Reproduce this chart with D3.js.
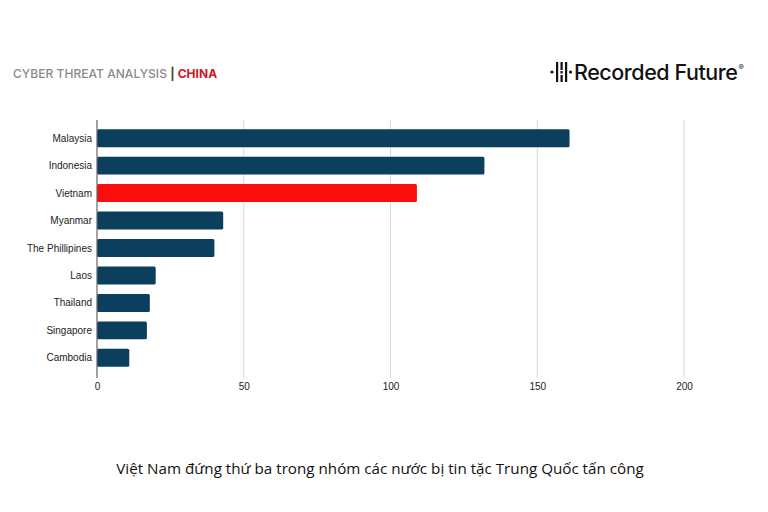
<!DOCTYPE html>
<html><head><meta charset="utf-8">
<script src="https://cdn.jsdelivr.net/npm/d3@7"></script>
<style>body{margin:0;background:#fff}svg{display:block}</style>
</head><body>
<svg id="c" width="768" height="512"></svg>
<script>
const categories = ["Malaysia","Indonesia","Vietnam","Myanmar","The Phillipines","Laos","Thailand","Singapore","Cambodia"];
const values = [161,132,109,43,40,20,18,17,11];
const highlight = "Vietnam";
const ticks = [0,50,100,150,200];
const caption = "Việt Nam đứng thứ ba trong nhóm các nước bị tin tặc Trung Quốc tấn công";

const svg = d3.select("#c");
const x = d3.scaleLinear().domain([0,200]).range([97,684]);
const y = d3.scaleBand().domain(categories).range([124.5,371.5]).paddingInner(0.345).paddingOuter(0.17);

// gridlines
svg.append("g").selectAll("line").data(ticks.slice(1)).join("line")
  .attr("x1",d=>x(d)).attr("x2",d=>x(d)).attr("y1",120).attr("y2",378)
  .attr("stroke","#d9d9d9").attr("stroke-width",1);

// bars
svg.append("g").selectAll("rect").data(categories).join("rect")
  .attr("x",x(0)).attr("y",d=>y(d))
  .attr("width",(d,i)=>x(values[i])-x(0)).attr("height",y.bandwidth())
  .attr("rx",1.5)
  .attr("fill",d=>d===highlight?"#fc0d0d":"#0c3f5e");

// y axis line
svg.append("line").attr("x1",97).attr("x2",97).attr("y1",120).attr("y2",378)
  .attr("stroke","#666").attr("stroke-width",1.2);

// y labels
svg.append("g").selectAll("text").data(categories).join("text")
  .attr("x",92).attr("y",d=>y(d)+y.bandwidth()/2).attr("dy","0.35em")
  .attr("text-anchor","end").attr("font-family","Liberation Sans, Arial, sans-serif")
  .attr("font-size",10).attr("fill","#222").text(d=>d);

// x axis
const xAxis = d3.axisBottom(x).tickValues(ticks).tickSize(0).tickPadding(0);
const gx = svg.append("g").attr("transform","translate(0,383)").call(xAxis);
gx.select(".domain").remove();
gx.selectAll("text").attr("font-family","Liberation Sans, Arial, sans-serif").attr("font-size",10).attr("fill","#222").attr("dy","0.71em");

// title
const t = svg.append("text").attr("x",13).attr("y",78).attr("font-family","Inter, Roboto, sans-serif").attr("font-size",12).attr("letter-spacing",0.05);
t.append("tspan").attr("fill","#8a8a8a").attr("font-weight",500).text("CYBER THREAT ANALYSIS ");
t.append("tspan").attr("fill","#444").attr("font-weight",700).text("| ");
t.append("tspan").attr("fill","#d2181e").attr("font-weight",700).text("CHINA");

// logo
const lg = svg.append("g").attr("fill","#111");
lg.append("circle").attr("cx",552).attr("cy",72).attr("r",1.6);
lg.append("rect").attr("x",556).attr("y",62).attr("width",2.2).attr("height",20);
lg.append("rect").attr("x",560.5).attr("y",62).attr("width",2.2).attr("height",8);
lg.append("rect").attr("x",560.5).attr("y",71).attr("width",2.2).attr("height",2.5);
lg.append("rect").attr("x",560.5).attr("y",75).attr("width",2.2).attr("height",7);
lg.append("rect").attr("x",565).attr("y",62).attr("width",2.2).attr("height",20);
lg.append("circle").attr("cx",570.5).attr("cy",72).attr("r",1.6);
svg.append("text").attr("x",574).attr("y",79.5).attr("font-family","Inter, Roboto, sans-serif")
  .attr("font-size",21.5).attr("font-weight",500).attr("letter-spacing",-0.45).attr("fill","#111").text("Recorded Future");
svg.append("text").attr("x",738.5).attr("y",70).attr("font-family","Inter, sans-serif").attr("font-size",8).attr("fill","#111").text("®");

// caption
svg.append("text").attr("x",380).attr("y",474).attr("text-anchor","middle")
  .attr("font-family","Open Sans, Noto Sans, sans-serif").attr("font-size",15.2).attr("fill","#111").text(caption);
</script>
</body></html>
